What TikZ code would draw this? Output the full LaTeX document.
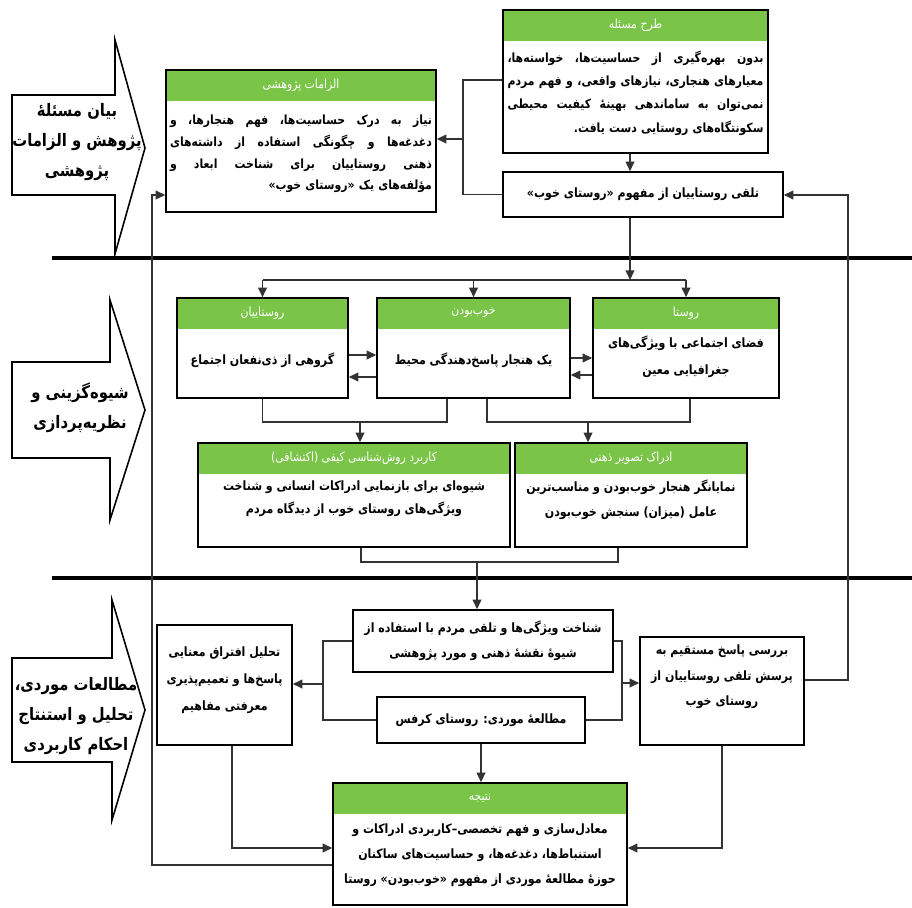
\documentclass[tikz,border=0pt]{standalone}
\usepackage{fontspec}
\usepackage{tikz}
\usetikzlibrary{arrows.meta}
\TeXXeTstate=1
\newfontfamily\farsi[Script=Arabic, FakeStretch=0.86]{DejaVu Sans}
\definecolor{headgreen}{RGB}{122,196,72}
\newcommand{\fa}[1]{\beginR #1\endR}
\newcommand{\jstline}[1]{\par\noindent\hbox to \hsize{\spaceskip=0.3em plus 1fil\beginR #1\endR}\par}
\newcommand{\rtline}[1]{\par\noindent\hbox to \hsize{\hfill\beginR #1\endR}\par}

\begin{document}
\begin{tikzpicture}[x=0.02cm, y=-0.02cm,
    box/.style={draw=black, line width=0.9pt, fill=white, inner sep=0pt},
    hbox/.style={box, path picture={\fill[headgreen] (path picture bounding box.north west) rectangle ([yshift=-0.62cm]path picture bounding box.north east);}},
    headtxt/.style={anchor=north, minimum height=0.62cm, inner sep=0pt, text=white, font=\farsi\fontsize{7.2}{8}\selectfont},
    txt/.style={inner sep=0pt, align=center, font=\farsi\bfseries\fontsize{7.3}{13}\selectfont},
    jtxt/.style={inner sep=0pt, font=\farsi\bfseries\fontsize{7.2}{13.3}\selectfont},
    side/.style={draw=black, line width=0.9pt, fill=white},
    sidetxt/.style={inner sep=0pt, align=center, font=\farsi\bfseries\fontsize{9.8}{17}\selectfont},
    conn/.style={draw=black!80, line width=0.8pt},
    arr/.style={conn, -{Triangle[length=5.5pt, width=5pt]}},
    sep/.style={draw=black, line width=2pt}]
    \useasboundingbox (0,0) rectangle (912,908);
    % Separators
    \draw[sep] (52,258) -- (912,258);
    \draw[sep] (52,578) -- (912,578);
    % Stages
    \draw[side] (12,95) -- (115,95) -- (115,40) -- (145,148) -- (115,254) -- (115,195) -- (12,195) -- cycle;
    \node[sidetxt] (stage1) at (77,142) {\fa{بیان مسئلهٔ}\\\fa{پژوهش و الزامات}\\\fa{پژوهشی}};
    \draw[side] (12,362) -- (110,362) -- (110,300) -- (145,410) -- (110,520) -- (110,458) -- (12,458) -- cycle;
    \node[sidetxt] (stage2) at (80,408) {\fa{شیوه‌گزینی و}\\\fa{نظریه‌پردازی}};
    \draw[side] (12,658) -- (112,658) -- (112,600) -- (145,710) -- (112,820) -- (112,762) -- (12,762) -- cycle;
    \node[sidetxt] (stage3) at (76,716) {\fa{مطالعات موردی،}\\\fa{تحلیل و استنتاج}\\\fa{احکام کاربردی}};
    % Top boxes
    \node[hbox, minimum width=5.3cm, minimum height=2.86cm] (tarh) at (635.5,81.5) {};
    \node[headtxt] (tarhh) at (tarh.north) {\fa{طرح مسئله}};
    \node[jtxt, text width=5.12cm] (tarht) at (635.5,87) {\jstline{بدون بهره‌گیری از حساسیت‌ها، خواسته‌ها،}\jstline{معیارهای هنجاری، نیازهای واقعی، و فهم مردم}\jstline{نمی‌توان به ساماندهی بهینهٔ کیفیت محیطی}\rtline{سکونتگاه‌های روستایی دست یافت.}};
    \node[box, txt, minimum width=5.6cm, minimum height=0.9cm] (talaghi) at (643,194.5) {\fa{تلقی روستاییان از مفهوم «روستای خوب»}};
    \node[hbox, minimum width=5.4cm, minimum height=2.84cm] (elzamat) at (301,141) {};
    \node[headtxt] (elzamath) at (elzamat.north) {\fa{الزامات پژوهشی}};
    \node[jtxt, text width=5.24cm, font=\farsi\bfseries\fontsize{7.2}{12.3}\selectfont] (elzamatt) at (301,148) {\jstline{نیاز به درک حساسیت‌ها، فهم هنجارها، و}\jstline{دغدغه‌ها و چگونگی استفاده از داشته‌های}\jstline{ذهنی روستاییان برای شناخت ابعاد و}\rtline{مؤلفه‌های یک «روستای خوب»}};
    % Middle boxes
    \node[hbox, minimum width=3.42cm, minimum height=2cm] (rostaian) at (262.5,348) {};
    \node[headtxt] (rostaianh) at (rostaian.north) {\fa{روستاییان}};
    \node[txt] (rostaiant) at (262.5,360) {\fa{گروهی از ذی‌نفعان اجتماع}};
    \node[hbox, minimum width=3.86cm, minimum height=2cm] (khoob) at (473.5,348) {};
    \node[headtxt] (khoobh) at (khoob.north) {\fa{خوب‌بودن}};
    \node[txt] (khoobt) at (473.5,360) {\fa{یک هنجار پاسخ‌دهندگی محیط}};
    \node[hbox, minimum width=3.72cm, minimum height=2cm] (rosta) at (686,348) {};
    \node[headtxt] (rostah) at (rosta.north) {\fa{روستا}};
    \node[txt, font=\farsi\bfseries\fontsize{7.3}{15.3}\selectfont] (rostat) at (686,356.5) {\fa{فضای اجتماعی با ویژگی‌های}\\\fa{جغرافیایی معین}};
    \node[hbox, minimum width=6.24cm, minimum height=2.08cm] (karbord) at (354,495) {};
    \node[headtxt] (karbordh) at (karbord.north) {\fa{کاربرد روش‌شناسی کیفی (اکتشافی)}};
    \node[txt] (karbordt) at (354,499) {\fa{شیوه‌ای برای بازنمایی ادراکات انسانی و شناخت}\\\fa{ویژگی‌های روستای خوب از دیدگاه مردم}};
    \node[hbox, minimum width=4.64cm, minimum height=2.08cm] (engare) at (631,495) {};
    \node[headtxt] (engareh) at (engare.north) {\fa{ادراک تصویر ذهنی}};
    \node[txt, font=\farsi\bfseries\fontsize{7.3}{14}\selectfont] (engaret) at (631,500) {\fa{نمایانگر هنجار خوب‌بودن و مناسب‌ترین}\\\fa{عامل (میزان) سنجش خوب‌بودن}};
    % Bottom boxes
    \node[box, txt, minimum width=5.2cm, minimum height=1.24cm, font=\farsi\bfseries\fontsize{7.3}{14.2}\selectfont] (shenakht) at (483,641) {\fa{شناخت ویژگی‌ها و تلقی مردم با استفاده از}\\\fa{شیوهٔ نقشهٔ ذهنی و مورد پژوهشی}};
    \node[box, txt, minimum width=4.16cm, minimum height=0.92cm] (motale) at (481,720) {\fa{مطالعهٔ موردی: روستای کرفس}};
    \node[box, minimum width=2.7cm, minimum height=2.4cm] (tahlil) at (224.5,685) {};
    \node[txt, font=\farsi\bfseries\fontsize{7.3}{15.4}\selectfont] (tahlilt) at (224.5,680) {\fa{تحلیل افتراق معنایی}\\\fa{پاسخ‌ها و تعمیم‌پذیری}\\\fa{معرفتی مفاهیم}};
    \node[box, minimum width=3.28cm, minimum height=2.16cm] (barresi) at (722,691) {};
    \node[txt, font=\farsi\bfseries\fontsize{7.3}{14.5}\selectfont] (barresit) at (722,677) {\fa{بررسی پاسخ مستقیم به}\\\fa{پرسش تلقی روستاییان از}\\\fa{روستای خوب}};
    \node[hbox, minimum width=5.88cm, minimum height=2.44cm] (natije) at (480,844) {};
    \node[headtxt] (natijeh) at (natije.north) {\fa{نتیجه}};
    \node[txt, font=\farsi\bfseries\fontsize{7.3}{14.2}\selectfont] (natijet) at (480,855) {\fa{معادل‌سازی و فهم تخصصی–کاربردی ادراکات و}\\\fa{استنباط‌ها، دغدغه‌ها، و حساسیت‌های ساکنان}\\\fa{حوزهٔ مطالعهٔ موردی از مفهوم «خوب‌بودن» روستا}};
    % Connectors, top
    \draw[arr] (tarh.south -| 630,0) -- (talaghi.north -| 630,0);
    \coordinate (jelz) at (463,139);
    \draw[conn] (tarh.west |- 0,80) -| (jelz) |- (talaghi.west);
    \draw[arr] (jelz) -- (elzamat.east |- jelz);
    \coordinate (jright) at (848,195);
    \draw[arr] (barresi.east |- 0,680) -| (jright) -- (talaghi.east |- jright);
    % Connectors, middle
    \coordinate (hub) at (630,280);
    \draw[arr] (talaghi.south -| hub) -- (hub);
    \draw[conn] (rostaian.north |- hub) -- (rosta.north |- hub);
    \draw[arr] (rostaian.north |- hub) -- (rostaian.north);
    \draw[arr] (khoob.north |- hub) -- (khoob.north);
    \draw[arr] (rosta.north |- hub) -- (rosta.north);
    \draw[arr] (rostaian.east |- 0,355) -- (khoob.west |- 0,355);
    \draw[arr] (khoob.west |- 0,377) -- (rostaian.east |- 0,377);
    \draw[arr] (khoob.east |- 0,358) -- (rosta.west |- 0,358);
    \draw[arr] (rosta.west |- 0,375) -- (khoob.east |- 0,375);
    \coordinate (jk) at (360,422);
    \draw[conn] (rostaian.south) |- (447,422) -- (khoob.south -| 447,0);
    \draw[arr] (jk) -- (karbord.north -| jk);
    \coordinate (je) at (588,422);
    \draw[conn] (khoob.south -| 487,0) |- (690,422) -- (rosta.south -| 690,0);
    \draw[arr] (je) -- (engare.north -| je);
    \coordinate (js) at (477,562);
    \draw[conn] (karbord.south -| 361,0) |- (618,562) -- (engare.south -| 618,0);
    \draw[arr] (js) -- (shenakht.north -| js);
    % Connectors, bottom
    \coordinate (jl) at (323,684);
    \draw[conn] (shenakht.west) -| (jl) |- (motale.west);
    \draw[arr] (jl) -- (tahlil.east |- jl);
    \coordinate (jr) at (622,683);
    \draw[conn] (shenakht.east) -| (jr) |- (motale.east);
    \draw[arr] (jr) -- (barresi.west |- jr);
    \draw[arr] (motale.south) -- (natije.north -| motale.south);
    \draw[arr] (tahlil.south -| 232,0) |- (natije.west |- 0,848);
    \draw[arr] (barresi.south) |- (natije.east |- 0,848);
    \coordinate (jback) at (152,195);
    \draw[arr] (natije.west |- 0,865) -| (jback) -- (elzamat.west |- jback);
\end{tikzpicture}
\end{document}
